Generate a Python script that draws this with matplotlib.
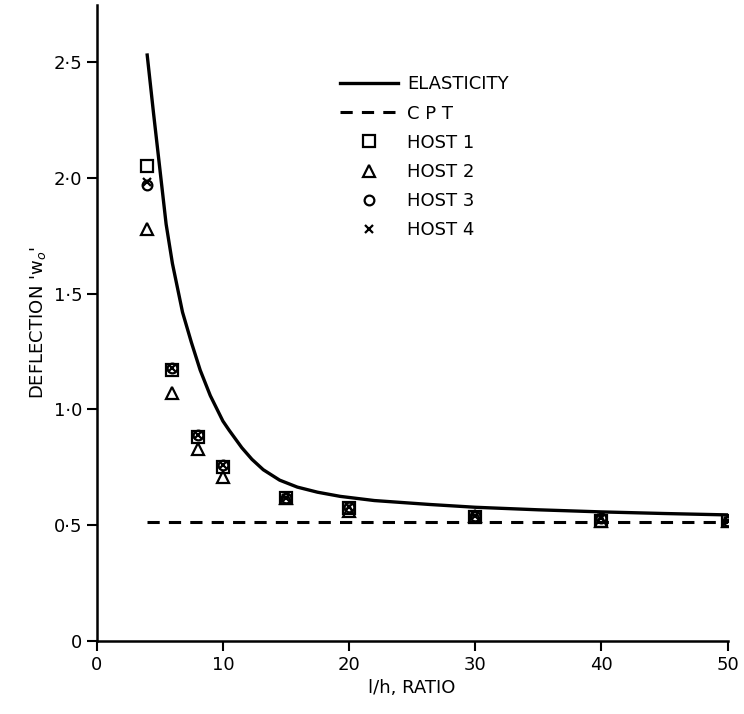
import matplotlib.pyplot as plt
from matplotlib.ticker import FuncFormatter

# elasticity solution
elas_x = [4, 4.5, 5, 5.5, 6, 6.8, 7.5, 8.2, 9, 10, 10.5, 11.5, 12.3, 13.2, 14.5, 15.9, 17.5, 19.3, 22, 26.4, 30, 35, 40, 45, 50]
elas_y = [2.53, 2.28, 2.04, 1.80, 1.63, 1.42, 1.29, 1.17, 1.06, 0.95, 0.91, 0.835, 0.785, 0.74, 0.695, 0.665, 0.643, 0.625, 0.607, 0.59, 0.578, 0.567, 0.558, 0.551, 0.545]

# classical plate theory
cpt_x = [4, 50]
cpt_y = [0.515, 0.515]

ratio = [4, 6, 8, 10, 15, 20, 30, 40, 50]
host1 = [2.05, 1.17, 0.88, 0.75, 0.62, 0.575, 0.535, 0.52, 0.52]
host2 = [1.78, 1.07, 0.83, 0.71, 0.62, 0.56, 0.54, 0.52, 0.52]
host3 = [1.97, 1.18, 0.89, 0.76, 0.62, 0.58, 0.54, 0.53, 0.52]
host4 = [1.98, 1.18, 0.89, 0.76, 0.62, 0.58, 0.54, 0.53, 0.52]

fig = plt.figure(figsize=(7.44, 7.14), dpi=100)
ax = fig.add_axes([0.130, 0.102, 0.848, 0.891])

ax.plot(elas_x, elas_y, color='black', lw=2.4, label='ELASTICITY')
ax.plot(cpt_x, cpt_y, color='black', lw=2.2, ls=(0, (4, 3)), label='C P T')
ax.plot(ratio, host1, ls='none', marker='s', ms=8, mfc='none', mec='black', mew=1.6, label='HOST 1')
ax.plot(ratio, host2, ls='none', marker='^', ms=8, mfc='none', mec='black', mew=1.6, label='HOST 2')
ax.plot(ratio, host3, ls='none', marker='o', ms=7, mfc='none', mec='black', mew=1.6, label='HOST 3')
ax.plot(ratio, host4, ls='none', marker='x', ms=6, mec='black', mew=1.6, label='HOST 4')

ax.set_xlim(0, 50)
ax.set_ylim(0, 2.746)
ax.set_xticks([0, 10, 20, 30, 40, 50])
ax.set_yticks([0, 0.5, 1.0, 1.5, 2.0, 2.5])
ax.yaxis.set_major_formatter(FuncFormatter(lambda v, p: '0' if v == 0 else f'{v:.1f}'.replace('.', '\u00b7')))
ax.spines['top'].set_visible(False)
ax.spines['right'].set_visible(False)
ax.spines['left'].set_linewidth(1.8)
ax.spines['bottom'].set_linewidth(1.8)
ax.tick_params(direction='out', length=7, width=1.5, labelsize=13)

ax.set_xlabel('l/h, RATIO', fontsize=13)
ax.set_ylabel("DEFLECTION 'w$_o$'", fontsize=13)

ax.legend(loc='upper left', bbox_to_anchor=(0.36, 0.915), frameon=False, fontsize=13,
          handlelength=3.2, labelspacing=0.62, handletextpad=0.5)

plt.savefig('out.png')
plt.close()
